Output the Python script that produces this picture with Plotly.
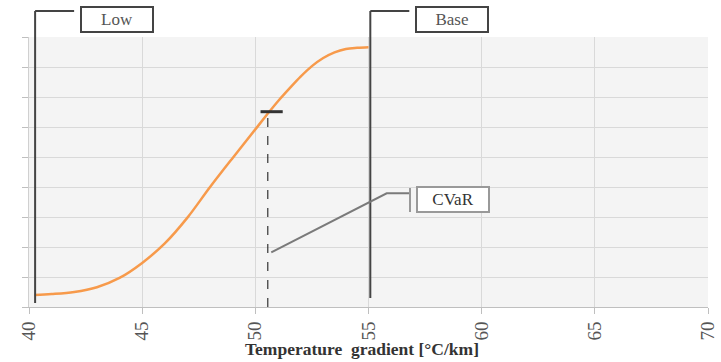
import plotly.graph_objects as go

# ---- data ----
gradient = [40.25, 41, 42, 43, 44, 45, 46, 47, 48, 49, 50, 50.5, 51, 51.5, 52, 52.5, 53, 53.5, 54, 54.5, 55]
cumulative = [0.40, 0.43, 0.50, 0.66, 0.97, 1.47, 2.12, 2.98, 4.00, 4.97, 5.92, 6.40, 6.86, 7.28, 7.68, 8.03, 8.30, 8.49, 8.60, 8.64, 8.66]
x_ticks = [40, 45, 50, 55, 60, 65, 70]
x_title = "<b>Temperature  gradient [°C/km]</b>"
low_x = 40.27
base_x = 55.08
cvar_x = 50.55
cvar_y = 6.51

X0, X1 = 40, 70
Y0, Y1 = 0, 9
W, H = 721, 362
ML, MR, MT, MB = 29, 13, 37, 55
PW = W - ML - MR
PH = H - MT - MB

SERIF = "Liberation Serif, Times New Roman, Times, serif"


def px2paper_x(px):
    return (px - ML) / PW


def py2paper_y(py):
    return (H - MB - py) / PH


def dx2paper(x):
    return (x - X0) / (X1 - X0)


fig = go.Figure()
fig.add_trace(go.Scatter(
    x=gradient, y=cumulative, mode="lines",
    line=dict(color="#F79A4B", width=2.5, shape="spline", smoothing=1.0),
    hoverinfo="skip", showlegend=False,
))

dark = "#444444"
grey = "#7a7a7a"
shapes = []
annotations = []

top_py = 11


def scenario(xval, bottom_py, label):
    xp = dx2paper(xval)
    lx = ML + xp * PW
    shapes.append(dict(type="line", xref="paper", yref="paper",
                       x0=xp, x1=xp, y0=py2paper_y(bottom_py), y1=py2paper_y(top_py),
                       line=dict(color=dark, width=2)))
    shapes.append(dict(type="line", xref="paper", yref="paper",
                       x0=xp, x1=px2paper_x(lx + 39), y0=py2paper_y(top_py), y1=py2paper_y(top_py),
                       line=dict(color=dark, width=2)))
    annotations.append(dict(text=label, xref="paper", yref="paper",
                            x=px2paper_x(lx + 45), y=py2paper_y(19),
                            xanchor="left", yanchor="middle", showarrow=False,
                            width=68, height=21, borderpad=1, borderwidth=2,
                            bordercolor=dark, bgcolor="white",
                            font=dict(family=SERIF, size=17, color="#555555")))


scenario(low_x, 303, "Low")
scenario(base_x, 298, "Base")

# CVaR marker
shapes.append(dict(type="line", xref="x", yref="y",
                   x0=cvar_x - 0.32, x1=cvar_x + 0.66, y0=cvar_y, y1=cvar_y,
                   line=dict(color="#333333", width=3)))
shapes.append(dict(type="line", xref="x", yref="y",
                   x0=cvar_x, x1=cvar_x, y0=Y0, y1=cvar_y,
                   line=dict(color="#333333", width=1.2, dash="dash")))
cx = ML + dx2paper(cvar_x) * PW
shapes.append(dict(type="path", xref="paper", yref="paper",
                   path="M {:.4f},{:.4f} L {:.4f},{:.4f} L {:.4f},{:.4f}".format(
                       px2paper_x(cx + 3.5), py2paper_y(252.3),
                       px2paper_x(386.7), py2paper_y(193.3),
                       px2paper_x(410), py2paper_y(193.3)),
                   line=dict(color=grey, width=2)))
shapes.append(dict(type="line", xref="paper", yref="paper",
                   x0=px2paper_x(410), x1=px2paper_x(410),
                   y0=py2paper_y(188), y1=py2paper_y(212),
                   line=dict(color="#999999", width=2)))
annotations.append(dict(text="CVaR", xref="paper", yref="paper",
                        x=px2paper_x(416), y=py2paper_y(200),
                        xanchor="left", yanchor="middle", showarrow=False,
                        width=68, height=21, borderpad=1, borderwidth=2,
                        bordercolor="#999999", bgcolor="white",
                        font=dict(family=SERIF, size=17, color="#333333")))

# axis title placed as annotation to match reference's horizontal offset
annotations.append(dict(text=x_title, xref="paper", yref="paper",
                        x=px2paper_x(361.5), y=py2paper_y(349),
                        xanchor="center", yanchor="middle", showarrow=False,
                        font=dict(family=SERIF, size=17.5, color="#333333")))

fig.update_layout(
    width=W, height=H,
    margin=dict(l=ML, r=MR, t=MT, b=MB, autoexpand=False),
    paper_bgcolor="white", plot_bgcolor="#F4F4F4",
    shapes=shapes, annotations=annotations,
    font=dict(family=SERIF, color="#555555"),
    xaxis=dict(range=[X0, X1], tickvals=x_ticks, ticktext=[str(t) for t in x_ticks],
               tickangle=-90, showgrid=True, gridcolor="#D9D9D9", gridwidth=1,
               zeroline=False, showline=True, linecolor="#BFBFBF", linewidth=1,
               ticks="outside", ticklen=6, tickcolor="#BFBFBF", automargin=False,
               tickfont=dict(family=SERIF, size=19, color="#555555")),
    yaxis=dict(range=[Y0, Y1], dtick=1, showticklabels=False, automargin=False,
               showgrid=True, gridcolor="#D9D9D9", gridwidth=1,
               zeroline=False, showline=True, linecolor="#D0D0D0", linewidth=1,
               ticks="outside", ticklen=6, tickcolor="#BFBFBF"),
)

fig.write_html("out.html", config={"displayModeBar": False},
               post_script="document.body.style.margin='0';document.body.style.padding='0';")
